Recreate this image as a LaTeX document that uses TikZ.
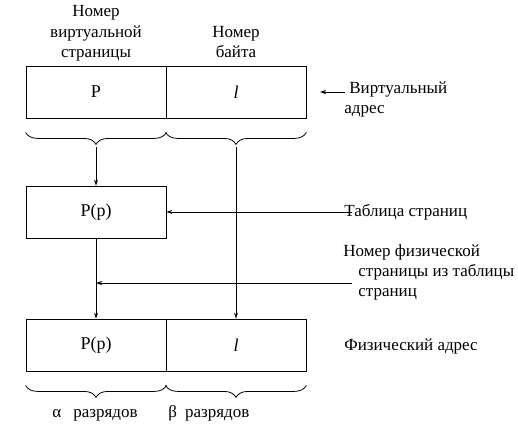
\documentclass[tikz,border=0pt]{standalone}
\usepackage{fontspec}
\setmainfont{Liberation Serif}
\usetikzlibrary{positioning,calc,arrows.meta,decorations.pathreplacing}

\begin{document}
\begin{tikzpicture}[x=1pt,y=-1pt,line width=0.8pt,>={Stealth[length=6pt,width=4pt]},
    font=\fontsize{17}{20}\selectfont,
    cell/.style={draw,minimum width=140pt,minimum height=52pt,inner sep=0pt,font=\fontsize{18}{20}\selectfont},
    txt/.style={inner sep=0pt,align=left,anchor=base west},
    brc/.style={decorate,decoration={brace,mirror,amplitude=12pt}}]
  \useasboundingbox (0,0) rectangle (518,428);
  % address boxes
  \node[cell] (P)  at (96,92)    {P};
  \node[cell] (l)  at (236,92)   {\textit{l}};
  \node[cell] (Pp) at (96,212)   {P(p)};
  \node[cell] (Pf) at (96,345)   {P(p)};
  \node[cell] (lf) at (236,345)  {\textit{l}};
  \foreach \c in {P,l,Pf,lf}
    \draw[brc] ($(\c.south west)+(0,14)$) -- ($(\c.south east)+(0,14)$);
  % labels (base = last line)
  \node[txt,align=center,anchor=base] (np) at (96,57) {Номер\\виртуальной\\страницы};
  \node[txt,align=center,anchor=base] (nb) at (236,57) {Номер\\байта};
  \node[txt] (va) at (344,113) {\hspace*{5pt}Виртуальный\\адрес};
  \node[txt] (ts) at (344,216) {Таблица страниц};
  \node[txt] (nf) at (343,296) {Номер физической\\\hspace*{15pt}страницы из таблицы\\\hspace*{15pt}страниц};
  \node[txt] (fa) at (344,350) {Физический адрес};
  \node[txt] (al) at (52,417) {α\hspace*{12pt}разрядов};
  \node[txt] (be) at (168,417) {β\hspace*{8pt}разрядов};
  % connectors
  \coordinate (ta) at (96,147);
  \coordinate (tb) at (236,147);
  \coordinate (tt) at (352,212);
  \coordinate (tn) at (352,283);
  \coordinate (v1) at (345,92);
  \coordinate (v2) at (320,92);
  \draw[->] (ta) -- (Pp);
  \draw[->] (tb) -- (lf);
  \draw[->] (Pp) -- (Pf);
  \draw[->] (tt) -- (tt -| Pp.east);
  \draw[->] (tn) -- (tn -| Pp.south);
  \draw[->] (v1) -- (v2);
\end{tikzpicture}
\end{document}
